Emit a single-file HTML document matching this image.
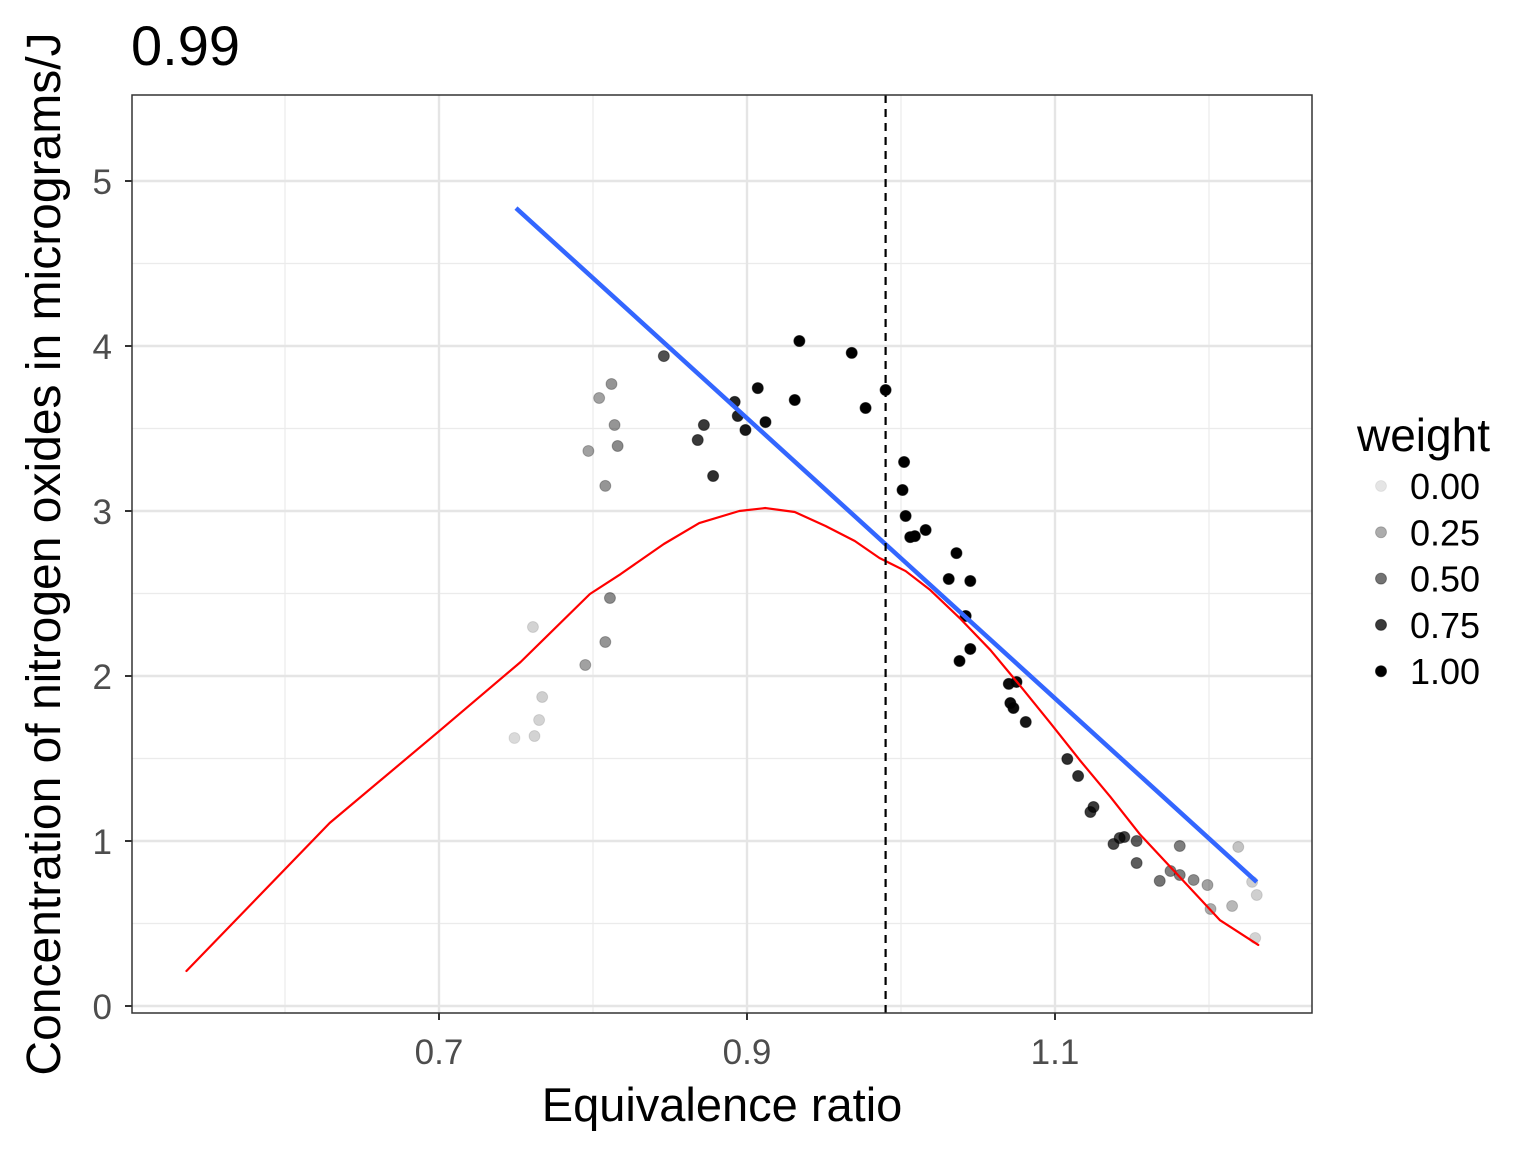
<!DOCTYPE html>
<html><head><meta charset="utf-8"><style>
html,body{margin:0;padding:0;background:#fff;}
svg{display:block;font-family:"Liberation Sans",Arial,sans-serif;}
</style></head><body>
<svg id="chart" width="1536" height="1152" viewBox="0 0 1536 1152">
<text x="131" y="65" font-size="56" fill="#000">0.99</text>
<g id="grid"></g>
<g id="marks"></g>
<rect x="132" y="95" width="1180" height="918" fill="none" stroke="#333" stroke-width="1.5"/>
<g id="axes"></g>
<text x="722" y="1121" font-size="47" text-anchor="middle" fill="#000">Equivalence ratio</text>
<text transform="translate(60,554) rotate(-90)" font-size="48" text-anchor="middle" fill="#000">Concentration of nitrogen oxides in micrograms/J</text>
<g id="legend"></g>
</svg>
<script>
const xTicks=[0.7,0.9,1.1];
const xMinor=[0.6,0.8,1.0,1.2];
const yTicks=[0,1,2,3,4,5];
const yMinor=[0.5,1.5,2.5,3.5,4.5];
const vline=0.99;
const ptX=[0.749,0.761,0.762,0.765,0.767,0.795,0.797,0.804,0.808,0.808,0.811,0.812,0.814,0.816,0.846,0.868,0.872,0.878,0.892,0.894,0.899,0.907,0.912,0.931,0.934,0.968,0.977,0.990,1.002,1.001,1.003,1.006,1.009,1.016,1.031,1.036,1.038,1.042,1.045,1.045,1.070,1.071,1.073,1.075,1.081,1.108,1.115,1.123,1.125,1.138,1.142,1.145,1.153,1.153,1.168,1.175,1.181,1.181,1.190,1.199,1.201,1.215,1.219,1.228,1.231,1.230];
const ptY=[1.624,2.297,1.636,1.733,1.873,2.067,3.364,3.685,3.152,2.206,2.473,3.770,3.521,3.394,3.939,3.430,3.521,3.212,3.661,3.576,3.491,3.745,3.539,3.673,4.030,3.958,3.624,3.733,3.297,3.127,2.970,2.842,2.848,2.885,2.588,2.745,2.091,2.364,2.576,2.164,1.952,1.836,1.806,1.964,1.721,1.497,1.394,1.176,1.206,0.982,1.018,1.024,1.000,0.867,0.758,0.818,0.970,0.794,0.764,0.733,0.588,0.606,0.964,0.752,0.673,0.412];
const ptW=[0.05,0.08,0.08,0.08,0.1,0.3,0.3,0.3,0.35,0.35,0.4,0.35,0.35,0.4,0.65,0.75,0.75,0.8,0.85,0.85,0.9,0.95,0.95,1,1,1,1,1,1,1,1,1,1,1,1,1,1,1,1,1,0.95,0.95,0.95,0.95,0.9,0.8,0.8,0.75,0.75,0.7,0.7,0.7,0.6,0.6,0.5,0.45,0.45,0.45,0.4,0.3,0.25,0.2,0.15,0.1,0.1,0.08];
const lineX=[0.750,1.231];
const lineY=[4.836,0.752];
const curveX=[0.536,0.629,0.701,0.753,0.798,0.818,0.846,0.869,0.895,0.912,0.931,0.951,0.970,0.986,1.003,1.019,1.038,1.058,1.077,1.097,1.116,1.136,1.155,1.181,1.207,1.232];
const curveY=[0.212,1.109,1.673,2.085,2.497,2.618,2.800,2.927,3.000,3.018,2.994,2.909,2.818,2.715,2.636,2.521,2.352,2.158,1.945,1.715,1.491,1.267,1.042,0.782,0.521,0.370];
const legendVals=[0,0.25,0.5,0.75,1];
const legendLabels=["0.00","0.25","0.50","0.75","1.00"];

const NS="http://www.w3.org/2000/svg";
const X=v=>439+(v-0.7)*1540;
const Y=v=>1006-v*165;
const alpha=w=>0.1+0.9*w;
function mk(p,tag,at){const e=document.createElementNS(NS,tag);for(const k in at)e.setAttribute(k,at[k]);p.appendChild(e);return e;}
const grid=document.getElementById('grid'),marks=document.getElementById('marks'),axes=document.getElementById('axes'),legend=document.getElementById('legend');
xMinor.forEach(v=>{const e=mk(grid,'line',{x1:X(v),x2:X(v),y1:95,y2:1013,stroke:'#ebebeb','stroke-width':1.2});

});
yMinor.forEach(v=>{const e=mk(grid,'line',{x1:132,x2:1312,y1:Y(v),y2:Y(v),stroke:'#ebebeb','stroke-width':1.2});

});
xTicks.forEach(v=>{const e=mk(grid,'line',{x1:X(v),x2:X(v),y1:95,y2:1013,stroke:'#e5e5e5','stroke-width':2.4});


const t=mk(axes,'line',{x1:X(v),x2:X(v),y1:1013,y2:1020,stroke:'#333','stroke-width':2});


const l=mk(axes,'text',{x:X(v),y:1064,'font-size':35,fill:'#4d4d4d','text-anchor':'middle'});l.textContent=v.toFixed(1);

});
yTicks.forEach(v=>{const e=mk(grid,'line',{x1:132,x2:1312,y1:Y(v),y2:Y(v),stroke:'#e5e5e5','stroke-width':2.4});


const t=mk(axes,'line',{x1:125,x2:132,y1:Y(v),y2:Y(v),stroke:'#333','stroke-width':2});


const l=mk(axes,'text',{x:112,y:Y(v)+13,'font-size':35,fill:'#4d4d4d','text-anchor':'end'});l.textContent=String(v);

});
ptX.forEach((v,i)=>{const a=alpha(ptW[i]);const c=mk(marks,'circle',{cx:X(v),cy:Y(ptY[i]),r:5.5,fill:'#000','fill-opacity':a,stroke:'#000','stroke-opacity':a*0.6,'stroke-width':1});

});
const red=mk(marks,'polyline',{points:curveX.map((v,i)=>X(v)+','+Y(curveY[i])).join(' '),fill:'none',stroke:'#ff0000','stroke-width':2.2,'stroke-linejoin':'round','stroke-linecap':'round'});


const blue=mk(marks,'line',{x1:X(lineX[0]),y1:Y(lineY[0]),x2:X(lineX[1]),y2:Y(lineY[1]),stroke:'#3366ff','stroke-width':4.5});


const vl=mk(marks,'line',{x1:X(vline),x2:X(vline),y1:95,y2:1013,stroke:'#000','stroke-width':2.2,'stroke-dasharray':'8,6'});


const lt=mk(legend,'text',{x:1357,y:451,'font-size':46,fill:'#000'});lt.textContent='weight';


legendVals.forEach((v,i)=>{const y=486+i*46.3;const a=alpha(v);
const c=mk(legend,'circle',{cx:1381,cy:y,r:5.5,fill:'#000','fill-opacity':a,stroke:'#000','stroke-opacity':a*0.6,'stroke-width':1});


const t=mk(legend,'text',{x:1410,y:y+13,'font-size':36,fill:'#000'});t.textContent=legendLabels[i];

});
</script>
</body></html>
